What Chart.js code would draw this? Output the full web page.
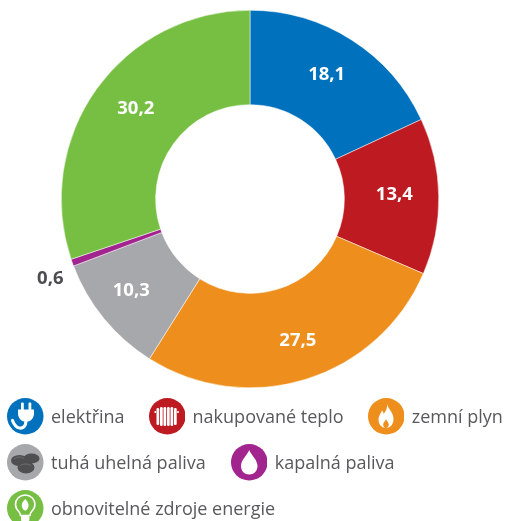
<!DOCTYPE html>
<html lang="cs">
<head>
<meta charset="utf-8">
<script src="https://cdn.jsdelivr.net/npm/chart.js@4"></script>
<style>
html,body{margin:0;padding:0;background:#fff;overflow:hidden}
#wrap{position:relative;width:505px;height:521px;overflow:hidden}
canvas{position:absolute;left:0;top:0}
#legend{position:absolute;left:7px;top:398px;width:498px;display:flex;flex-wrap:wrap;column-gap:24px;row-gap:9.5px;font:18px "Open Sans",sans-serif;color:#58595b}
.it{display:flex;align-items:center;height:36.5px;white-space:nowrap;position:relative;top:-.5px}
.it svg{width:36.5px;height:36.5px;margin-right:7.5px;flex:none;position:relative;top:.5px}
.it:nth-child(5){margin-left:1px}
</style>
</head>
<body>
<div id="wrap">
<canvas id="c" width="505" height="521"></canvas>
<div id="legend"></div>
</div>
<script>
const categories = ['elektřina','nakupované teplo','zemní plyn','tuhá uhelná paliva','kapalná paliva','obnovitelné zdroje energie'];
const values = [18.1,13.4,27.5,10.3,0.6,30.2];
const valueLabels = ['18,1','13,4','27,5','10,3','0,6','30,2'];
const colors = ['#0071bc','#be1a21','#ee8e1c','#a7a8ab','#a2248f','#76bf43'];

const icons = [
 '<g fill="#fff"><rect x="14" y="4.500" width="2.800" height="8" rx="1"/><rect x="21.500" y="4.500" width="2.800" height="8" rx="1"/><path d="M11 11.500h16v4c0 4.500-3.200 7.500-6 8h-4c-2.800-.5-6-3.500-6-8z"/></g><path d="M19 23c0 5-3 7.500-6.500 7S7 26.500 5.500 22.500" fill="none" stroke="#fff" stroke-width="3.200" stroke-linecap="round"/>',
 '<g fill="#fff"><rect x="7.500" y="10" width="2.700" height="17" rx="1.200"/><rect x="11" y="9" width="2.700" height="19" rx="1.200"/><rect x="14.500" y="9" width="2.700" height="19" rx="1.200"/><rect x="18" y="9" width="2.700" height="19" rx="1.200"/><rect x="21.500" y="9" width="2.700" height="19" rx="1.200"/><rect x="25" y="10" width="2.700" height="17" rx="1.200"/><rect x="5.500" y="13" width="1.600" height="2"/><rect x="28.200" y="13" width="1.600" height="2"/></g>',
 '<path d="M19 6c1 5 6.500 8 6.500 15 0 5-3 9-7.500 9s-7.500-4-7.500-8.500c0-4 2.500-6 3.500-9 1 .8 1.500 2 1.600 3.500C18 13 19.500 10 19 6z" fill="#fff"/><path d="M18 21c.6 2 2.800 3.200 2.800 5.500 0 1.800-1.200 3.500-2.800 3.500s-2.800-1.700-2.800-3.500c0-2.300 2.200-3.500 2.800-5.500z" fill="#ee8e1c"/>',
 '<g fill="#4f4f51"><ellipse cx="12.500" cy="16.500" rx="8.500" ry="5.500"/><ellipse cx="24.500" cy="14.500" rx="8" ry="5"/><ellipse cx="19" cy="23.500" rx="8.500" ry="6"/></g><g fill="none" stroke="#6d6e70"><path d="M7 15c3-2.500 7-2.500 10-.5"/><path d="M13 21.500c3-2 8-2 11 0"/></g>',
 '<path d="M18.200 6c2 5 8.300 10 8.300 16 0 5-3.800 8.500-8.300 8.500S10 27 10 22c0-6 6.200-11 8.200-16z" fill="#fff"/>',
 '<path d="M18.200 5c-5.600 0-9.700 4.200-9.700 9.400 0 3.300 1.500 5.300 3.300 7.100 1.300 1.300 1.500 2.500 1.700 4h9.400c.2-1.500.4-2.700 1.700-4 1.800-1.800 3.300-3.800 3.300-7.100C27.900 9.200 23.800 5 18.200 5z" fill="none" stroke="#fff" stroke-width="1.600"/><path d="M18.200 9c2.500 2.500 4 5 3.200 8-.5 2-2 3.200-3.200 3.800-1.200-.6-2.700-1.800-3.200-3.800-.8-3 .7-5.500 3.200-8z" fill="#fff"/><rect x="14" y="26" width="8.400" height="5" rx="1" fill="#fff"/>'
];

document.getElementById('legend').innerHTML = categories.map((name,i)=>
 '<div class="it"><svg viewBox="0 0 36.5 36.5"><circle cx="18.25" cy="18.25" r="18.25" fill="'+colors[i]+'"/>'+icons[i]+'</svg><span>'+name+'</span></div>').join('');

const valueLabelPlugin = {
 id:'valueLabels',
 afterDatasetsDraw(chart){
  const nudge = [[-1,-3],[0,-2],[5,4],[-7,0],[3,7],[3,-6]];
  const ctx = chart.ctx, meta = chart.getDatasetMeta(0);
  ctx.save();
  ctx.font = 'bold 18.5px "Open Sans", sans-serif';
  ctx.textAlign='center';ctx.textBaseline='middle';
  meta.data.forEach((arc,i)=>{
   const p = arc.getProps(['x','y','startAngle','endAngle','outerRadius','innerRadius'],true);
   const mid=(p.startAngle+p.endAngle)/2;
   const outside = values[i] < 2;
   const r = outside ? p.outerRadius+26.5 : p.innerRadius+(p.outerRadius-p.innerRadius)*0.53;
   ctx.fillStyle = outside ? '#4d4d4f' : '#fff';
   ctx.fillText(valueLabels[i], p.x+Math.cos(mid)*r+nudge[i][0], p.y+Math.sin(mid)*r+nudge[i][1]);
  });
  ctx.restore();
 }
};

new Chart(document.getElementById('c'),{
 type:'doughnut',
 data:{labels:categories,datasets:[{data:values,backgroundColor:colors,borderColor:'#fff',borderWidth:0.5}]},
 options:{
  responsive:false,animation:false,cutout:'50%',
  layout:{padding:{left:61,right:66,top:10,bottom:133}},
  plugins:{legend:{display:false},tooltip:{enabled:false}}
 },
 plugins:[valueLabelPlugin]
});
</script>
</body>
</html>
